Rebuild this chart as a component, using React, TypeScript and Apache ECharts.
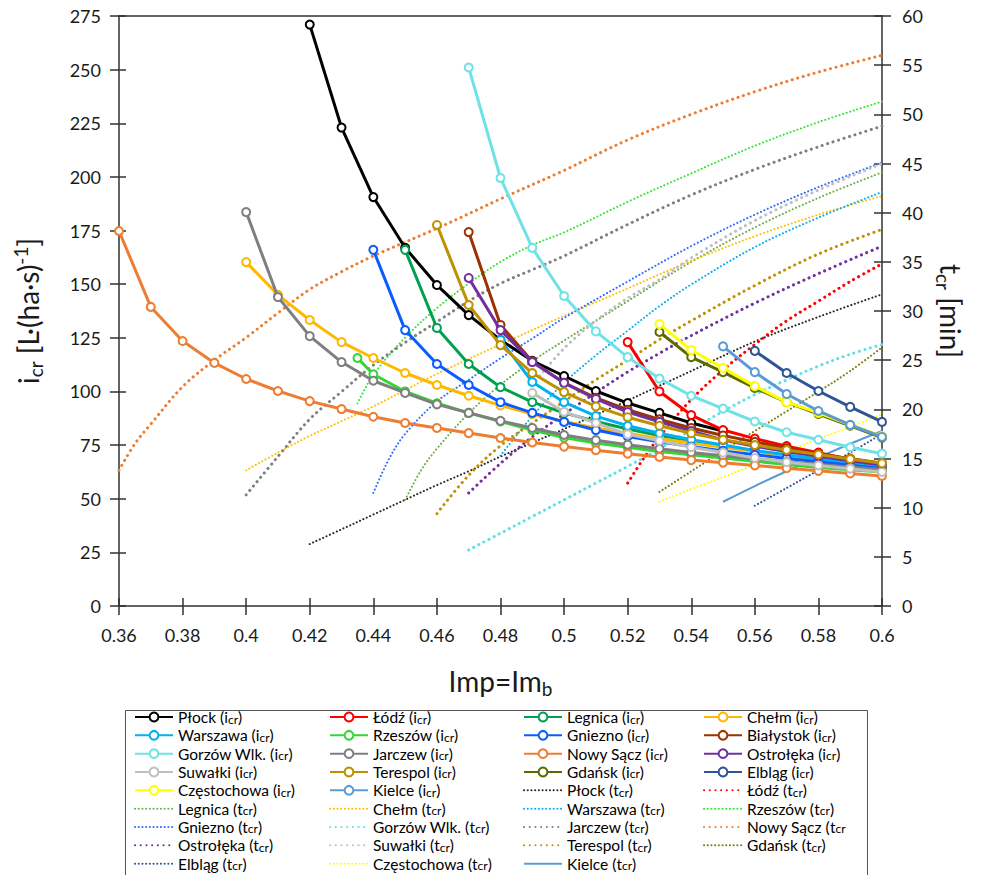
import React, { useEffect, useRef } from "react";
import * as echarts from "echarts";

// ---------- x values (Imp = Im_b) ----------
const IMP = [0.36, 0.37, 0.38, 0.39, 0.4, 0.41, 0.42, 0.43, 0.44, 0.45, 0.46, 0.47, 0.48, 0.49, 0.5, 0.51, 0.52, 0.53, 0.54, 0.55, 0.56, 0.57, 0.58, 0.59, 0.6];

// ---------- i_cr series (start x, values per 0.01 step) ----------
const plockIcrStart = 0.42;
const plockIcr = [271, 223, 190.6, 167, 149.6, 135.6, 124, 114.3, 107.2, 100.2, 94.6, 90, 85.3, 81.6];
const lodzIcrStart = 0.52;
const lodzIcr = [123, 100, 89, 82, 78, 74.5, 71.5, 68.3, 65.5];
const legnicaIcrStart = 0.45;
const legnicaIcr = [166, 129.6, 112.8, 102, 95, 90, 86, 82.5, 79.5, 77, 74.5, 72.3, 70.2, 68.2, 66, 64];
const chelmIcrStart = 0.4;
const chelmIcr = [160.3, 145, 133.3, 123, 115.6, 108.6, 103, 98, 93.5, 89.5, 86, 83, 80.5, 78, 76, 74, 72, 70.2, 68.5, 67, 65.5];
const warszawaIcrStart = 0.48;
const warszawaIcr = [124, 104.4, 95, 88.5, 84, 80.5, 77.5, 75, 72.5, 70.5, 68.5, 66.5, 64.5];
const rzeszowIcrX = [0.435, 0.44, 0.45, 0.46, 0.47, 0.48, 0.49, 0.5, 0.51, 0.52, 0.53, 0.54, 0.55, 0.56, 0.57, 0.58, 0.59, 0.6];
const rzeszowIcr = [115.6, 108, 100, 94.5, 90, 86, 82, 78.5, 76, 74, 72, 70.5, 69, 67.5, 66, 64.5, 63.5, 62.5];
const jarczewIcrStart = 0.4;
const jarczewIcr = [183.6, 144, 125.8, 113.7, 105, 99.3, 94, 90, 86.3, 83, 79.7, 77.3, 75.2, 73.3, 71.6, 70, 68.6, 67.2, 66, 64.8, 63.6];
const gnieznoIcrStart = 0.44;
const gnieznoIcr = [166, 128.6, 112.8, 103, 95, 90, 85.8, 82, 79, 76.5, 74.3, 72.3, 70.5, 68.8, 67.2, 65.6, 64];
const bialystokIcrStart = 0.47;
const bialystokIcr = [174.3, 131, 114, 104, 97, 91.5, 87, 83, 79.5, 76.5, 73.5, 71, 68.7, 66.5];
const gorzowIcrStart = 0.47;
const gorzowIcr = [251, 199.5, 166.9, 144.5, 128, 116, 106, 98, 92, 86, 81, 77.5, 74, 71];
const nowySaczIcrStart = 0.36;
const nowySaczIcr = [174.8, 139.4, 123.5, 113.3, 105.8, 100.2, 95.5, 91.8, 88.2, 85.3, 83, 80.6, 78.3, 76.2, 74.3, 72.6, 71, 69.5, 68, 66.8, 65.5, 64.2, 63, 61.8, 60.6];
const ostrolekaIcrStart = 0.47;
const ostrolekaIcr = [152.9, 128.6, 113.7, 104, 96.5, 90.4, 85.8, 81.6, 77.4, 74.5, 72, 69.8, 67.7, 65.7];
const suwalkiIcrStart = 0.49;
const suwalkiIcr = [99.3, 90.5, 85.3, 80, 77, 74, 71.5, 69, 67, 65.5, 64, 62.5];
const terespolIcrStart = 0.46;
const terespolIcr = [177.6, 140.3, 121.6, 108.6, 99.7, 93, 88, 84, 80.5, 77.5, 75, 72.7, 70.6, 68.5, 66.5];
const gdanskIcrStart = 0.53;
const gdanskIcr = [127.7, 116, 109, 101.6, 95, 89.5, 84, 78.5];
const elblagIcrStart = 0.56;
const elblagIcr = [118.9, 108.6, 100.2, 92.8, 85.8];
const czestochowaIcrStart = 0.53;
const czestochowaIcr = [131.4, 119.3, 111, 102.5, 95, 90, 84.4, 79.2];
const kielceIcrStart = 0.55;
const kielceIcr = [121, 109, 98.8, 90.9, 84.4, 78.8];

// ---------- t_cr series (x, value) ----------
const plockTcrX = [0.42, 0.43, 0.44, 0.45, 0.46, 0.47, 0.48, 0.49, 0.5, 0.52, 0.54, 0.56, 0.58, 0.6];
const plockTcr = [6.3, 7.8, 9.3, 10.8, 12.3, 13.7, 15.2, 16.6, 18, 20.9, 23.9, 26.9, 29.4, 31.7];
const lodzTcrX = [0.52, 0.525, 0.53, 0.54, 0.55, 0.56, 0.57, 0.58, 0.59, 0.6];
const lodzTcr = [12.5, 15, 17.2, 21, 24, 26.6, 29, 31, 33, 34.8];
const legnicaTcrX = [0.45, 0.455, 0.46, 0.47, 0.48, 0.49, 0.5, 0.51, 0.52, 0.54, 0.56, 0.58, 0.6];
const legnicaTcr = [10.8, 13.8, 16, 19.6, 22.5, 24.9, 27, 29, 31, 35, 38.5, 41.5, 44.1];
const chelmTcrX = [0.4, 0.41, 0.42, 0.43, 0.44, 0.46, 0.48, 0.5, 0.52, 0.54, 0.56, 0.58, 0.6];
const chelmTcr = [13.8, 15.6, 17.3, 18.8, 20.3, 23.6, 26.6, 29.5, 32.3, 35.1, 37.6, 39.8, 41.7];
const warszawaTcrX = [0.48, 0.49, 0.5, 0.51, 0.52, 0.53, 0.54, 0.56, 0.58, 0.6];
const warszawaTcr = [15.3, 19.3, 22.7, 25.5, 28, 30.5, 32.7, 36.5, 39.5, 42.1];
const rzeszowTcrX = [0.435, 0.44, 0.45, 0.46, 0.47, 0.48, 0.49, 0.5, 0.52, 0.54, 0.56, 0.58, 0.6];
const rzeszowTcr = [20.6, 23.5, 27.3, 30.3, 32.8, 35, 36.7, 38, 41.1, 44, 46.8, 49.2, 51.3];
const gnieznoTcrX = [0.44, 0.445, 0.45, 0.46, 0.47, 0.48, 0.49, 0.5, 0.52, 0.54, 0.56, 0.58, 0.6];
const gnieznoTcr = [11.5, 15, 17.5, 20.8, 23, 25.2, 27.2, 29.3, 33, 36.6, 39.8, 42.6, 45.1];
const gorzowTcrX = [0.47, 0.48, 0.49, 0.5, 0.51, 0.52, 0.53, 0.54, 0.55, 0.56, 0.57, 0.58, 0.59, 0.6];
const gorzowTcr = [5.7, 7.4, 9.1, 10.8, 12.5, 14.2, 16, 17.9, 19.8, 21.5, 23, 24.4, 25.6, 26.6];
const jarczewTcrX = [0.4, 0.41, 0.42, 0.43, 0.44, 0.45, 0.46, 0.47, 0.48, 0.49, 0.5, 0.52, 0.54, 0.56, 0.58, 0.6];
const jarczewTcr = [11.3, 15.2, 19, 21.8, 24.5, 26.8, 28.9, 31, 32.8, 34.2, 35.6, 38.8, 41.8, 44.4, 46.7, 48.8];
const nowySaczTcrX = [0.36, 0.365, 0.37, 0.38, 0.39, 0.4, 0.41, 0.42, 0.43, 0.44, 0.46, 0.48, 0.5, 0.52, 0.54, 0.56, 0.58, 0.6];
const nowySaczTcr = [13.8, 16.5, 18.5, 22.3, 25, 27.3, 29.8, 32.2, 34, 35.6, 38.4, 41.4, 44.3, 47.4, 50, 52.3, 54.3, 56];
const ostrolekaTcrX = [0.47, 0.48, 0.49, 0.5, 0.51, 0.52, 0.53, 0.54, 0.56, 0.58, 0.6];
const ostrolekaTcr = [11.5, 14.5, 17.2, 19.5, 21.7, 23.8, 25.7, 27.5, 30.8, 33.8, 36.6];
const suwalkiTcrX = [0.49, 0.5, 0.51, 0.52, 0.53, 0.54, 0.56, 0.58, 0.6];
const suwalkiTcr = [22.5, 26.2, 29, 31.3, 33.2, 35.4, 39.2, 42.3, 45];
const terespolTcrX = [0.46, 0.47, 0.48, 0.49, 0.5, 0.51, 0.52, 0.53, 0.54, 0.56, 0.58, 0.6];
const terespolTcr = [9.4, 13.3, 16.3, 18.6, 20.8, 23, 25, 27.1, 29, 32.6, 35.8, 38.3];
const gdanskTcrX = [0.53, 0.54, 0.55, 0.56, 0.57, 0.58, 0.59, 0.6];
const gdanskTcr = [11.6, 13.7, 15.8, 17.8, 19.8, 21.8, 23.9, 26.3];
const elblagTcrX = [0.56, 0.57, 0.58, 0.59, 0.6];
const elblagTcr = [10.2, 12, 13.8, 15.6, 17.5];
const czestochowaTcrX = [0.53, 0.54, 0.55, 0.56, 0.57, 0.58, 0.59, 0.6];
const czestochowaTcr = [10.6, 11.9, 13.1, 14.4, 15.7, 17, 18.2, 19.5];
const kielceTcrX = [0.55, 0.56, 0.57, 0.58, 0.59, 0.6];
const kielceTcr = [10.6, 12.2, 13.7, 15.1, 16.5, 17.8];

// ---------- axis ticks ----------
const X_MIN = 0.36, X_MAX = 0.6, X_STEP = 0.02;
const Y_MIN = 0, Y_MAX = 275, Y_STEP = 25;
const T_MIN = 0, T_MAX = 60, T_STEP = 5;

const FONT = "Lato, 'Open Sans', sans-serif";

function fromStart(start: number, vals: number[]) {
  const i0 = Math.round((start - IMP[0]) / 0.01);
  return vals.map((v, i) => [IMP[i0 + i], v]);
}
function pairs(xs: number[], ys: number[]) {
  return xs.map((x, i) => [x, ys[i]]);
}

type IDef = { name: string; color: string; data: number[][] };
const icrSeries: IDef[] = [
  { name: "Płock (icr)", color: "#000000", data: fromStart(plockIcrStart, plockIcr) },
  { name: "Łódź (icr)", color: "#FF0000", data: fromStart(lodzIcrStart, lodzIcr) },
  { name: "Legnica (icr)", color: "#00A050", data: fromStart(legnicaIcrStart, legnicaIcr) },
  { name: "Chełm (icr)", color: "#FFB800", data: fromStart(chelmIcrStart, chelmIcr) },
  { name: "Warszawa (icr)", color: "#00B0F0", data: fromStart(warszawaIcrStart, warszawaIcr) },
  { name: "Rzeszów (icr)", color: "#33D633", data: pairs(rzeszowIcrX, rzeszowIcr) },
  { name: "Gniezno (icr)", color: "#0A5CFF", data: fromStart(gnieznoIcrStart, gnieznoIcr) },
  { name: "Białystok (icr)", color: "#993300", data: fromStart(bialystokIcrStart, bialystokIcr) },
  { name: "Gorzów Wlk. (icr)", color: "#6EE2E6", data: fromStart(gorzowIcrStart, gorzowIcr) },
  { name: "Jarczew (icr)", color: "#7F7F7F", data: fromStart(jarczewIcrStart, jarczewIcr) },
  { name: "Nowy Sącz (icr)", color: "#ED7D31", data: fromStart(nowySaczIcrStart, nowySaczIcr) },
  { name: "Ostrołęka (icr)", color: "#7030A0", data: fromStart(ostrolekaIcrStart, ostrolekaIcr) },
  { name: "Suwałki (icr)", color: "#BFBFBF", data: fromStart(suwalkiIcrStart, suwalkiIcr) },
  { name: "Terespol (icr)", color: "#BF9000", data: fromStart(terespolIcrStart, terespolIcr) },
  { name: "Gdańsk (icr)", color: "#5C6B00", data: fromStart(gdanskIcrStart, gdanskIcr) },
  { name: "Elbląg (icr)", color: "#2F5597", data: fromStart(elblagIcrStart, elblagIcr) },
  { name: "Częstochowa (icr)", color: "#FFFF00", data: fromStart(czestochowaIcrStart, czestochowaIcr) },
  { name: "Kielce (icr)", color: "#5B9BD5", data: fromStart(kielceIcrStart, kielceIcr) },
];

type TDef = { name: string; color: string; data: number[][]; big?: boolean; solid?: boolean };
const tcrSeries: TDef[] = [
  { name: "Płock (tcr)", color: "#262626", data: pairs(plockTcrX, plockTcr) },
  { name: "Łódź (tcr)", color: "#FF0000", data: pairs(lodzTcrX, lodzTcr), big: true },
  { name: "Legnica (tcr)", color: "#70AD47", data: pairs(legnicaTcrX, legnicaTcr) },
  { name: "Chełm (tcr)", color: "#FFC000", data: pairs(chelmTcrX, chelmTcr) },
  { name: "Warszawa (tcr)", color: "#00B0F0", data: pairs(warszawaTcrX, warszawaTcr) },
  { name: "Rzeszów (tcr)", color: "#33E633", data: pairs(rzeszowTcrX, rzeszowTcr) },
  { name: "Gniezno (tcr)", color: "#2E6BFF", data: pairs(gnieznoTcrX, gnieznoTcr) },
  { name: "Gorzów Wlk. (tcr)", color: "#5EE0E6", data: pairs(gorzowTcrX, gorzowTcr), big: true },
  { name: "Jarczew (tcr)", color: "#7F7F7F", data: pairs(jarczewTcrX, jarczewTcr), big: true },
  { name: "Nowy Sącz (tcr", color: "#ED7D31", data: pairs(nowySaczTcrX, nowySaczTcr), big: true },
  { name: "Ostrołęka (tcr)", color: "#7030A0", data: pairs(ostrolekaTcrX, ostrolekaTcr), big: true },
  { name: "Suwałki (tcr)", color: "#BFBFBF", data: pairs(suwalkiTcrX, suwalkiTcr), big: true },
  { name: "Terespol (tcr)", color: "#BF9000", data: pairs(terespolTcrX, terespolTcr), big: true },
  { name: "Gdańsk (tcr)", color: "#7F7F00", data: pairs(gdanskTcrX, gdanskTcr) },
  { name: "Elbląg (tcr)", color: "#2F5597", data: pairs(elblagTcrX, elblagTcr) },
  { name: "Częstochowa (tcr)", color: "#FFFF00", data: pairs(czestochowaTcrX, czestochowaTcr) },
  { name: "Kielce (tcr)", color: "#5B9BD5", data: pairs(kielceTcrX, kielceTcr), solid: true },
];

const legendCols = [
  ["Płock (icr)", "Warszawa (icr)", "Gorzów Wlk. (icr)", "Suwałki (icr)", "Częstochowa (icr)", "Legnica (tcr)", "Gniezno (tcr)", "Ostrołęka (tcr)", "Elbląg (tcr)"],
  ["Łódź (icr)", "Rzeszów (icr)", "Jarczew (icr)", "Terespol (icr)", "Kielce (icr)", "Chełm (tcr)", "Gorzów Wlk. (tcr)", "Suwałki (tcr)", "Częstochowa (tcr)"],
  ["Legnica (icr)", "Gniezno (icr)", "Nowy Sącz (icr)", "Gdańsk (icr)", "Płock (tcr)", "Warszawa (tcr)", "Jarczew (tcr)", "Terespol (tcr)", "Kielce (tcr)"],
  ["Chełm (icr)", "Białystok (icr)", "Ostrołęka (icr)", "Elbląg (icr)", "Łódź (tcr)", "Rzeszów (tcr)", "Nowy Sącz (tcr", "Gdańsk (tcr)"],
];
const legendLeft = [134, 329, 523, 703];

const axisColor = "#303030";
const textColor = "#1a1a1a";

function buildOption() {
  const series: any[] = [];
  icrSeries.forEach((s, i) => {
    series.push({
      type: "line",
      name: s.name,
      xAxisIndex: 0,
      yAxisIndex: 0,
      data: s.data,
      symbol: "emptyCircle",
      symbolSize: 8,
      showSymbol: true,
      lineStyle: { color: s.color, width: 3 },
      itemStyle: { color: s.color, borderColor: s.color, borderWidth: 1.6 },
      z: 3 + i * 0.01,
    });
  });
  tcrSeries.forEach((s) => {
    series.push({
      type: "line",
      name: s.name,
      xAxisIndex: 0,
      yAxisIndex: 1,
      data: s.data,
      symbol: "none",
      showSymbol: false,
      smooth: 0.35,
      lineStyle: s.solid
        ? { color: s.color, width: 2, type: "solid" }
        : { color: s.color, width: s.big ? 3 : 2, type: s.big ? [0.1, 5.6] : [0.1, 3.6], cap: "round" },
      itemStyle: { color: s.color },
      z: 2,
    });
  });

  const legendFormatter = (name: string) =>
    name.replace(/\((i|t)cr(\)?)/, (_m: string, a: string, b: string) => `({n|${a}}{s|cr}${b ? "{n|)}" : ""}`);

  const tcrNames = new Set(tcrSeries.map((s) => s.name));

  const legends = legendCols.map((col, ci) => ({
    orient: "vertical",
    left: legendLeft[ci],
    top: 709,
    padding: 0,
    itemGap: 2.33,
    itemWidth: 38,
    itemHeight: 11,
    selectedMode: false,
    data: col.map((n) => (tcrNames.has(n) ? { name: n, itemStyle: { opacity: 0 } } : { name: n })),
    formatter: legendFormatter,
    textStyle: {
      fontFamily: FONT,
      fontSize: 15.5,
      color: "#000",
      lineHeight: 16,
      rich: {
        n: { fontFamily: FONT, fontSize: 15.5, color: "#000", lineHeight: 16 },
        s: { fontFamily: FONT, fontSize: 12, color: "#000", verticalAlign: "bottom", padding: [4, 0, 0, 0] },
      },
    },
  }));

  const labelStyle = { fontFamily: FONT, fontSize: 18, color: textColor };
  const lineStyle = { color: axisColor, width: 1.5 };
  const nameRich = {
    n: { fontFamily: FONT, fontSize: 28, color: textColor, lineHeight: 34 },
    s: { fontFamily: FONT, fontSize: 19, color: textColor, verticalAlign: "bottom", padding: [8, 0, 0, 0] },
    p: { fontFamily: FONT, fontSize: 19, color: textColor, verticalAlign: "top" },
  };

  return {
    animation: false,
    backgroundColor: "#ffffff",
    grid: { left: 119, right: 104, top: 16, bottom: 269, containLabel: false },
    legend: legends,
    graphic: [
      {
        type: "rect",
        left: 123,
        top: 708,
        shape: { width: 742, height: 166 },
        style: { fill: "none", stroke: "#555", lineWidth: 1 },
        silent: true,
      },
    ],
    xAxis: [
      {
        type: "value",
        position: "bottom",
        min: X_MIN,
        max: X_MAX,
        interval: X_STEP,
        axisLine: { show: true, onZero: false, lineStyle },
        axisTick: { show: true, length: 9, lineStyle },
        axisLabel: { ...labelStyle, margin: 20, formatter: (v: number) => String(+v.toFixed(2)) },
        splitLine: { show: false },
        name: "{n|Imp=Im}{s|b}",
        nameLocation: "middle",
        nameGap: 58,
        nameTextStyle: { rich: nameRich },
      },
      {
        type: "value",
        position: "bottom",
        min: X_MIN,
        max: X_MAX,
        interval: X_STEP,
        axisLine: { show: false },
        axisTick: { show: true, inside: true, length: 8, lineStyle },
        axisLabel: { show: false },
        splitLine: { show: false },
      },
      {
        type: "value",
        position: "top",
        min: X_MIN,
        max: X_MAX,
        interval: X_STEP,
        axisLine: { show: true, onZero: false, lineStyle },
        axisTick: { show: false },
        axisLabel: { show: false },
        splitLine: { show: false },
      },
    ],
    yAxis: [
      {
        type: "value",
        position: "left",
        min: Y_MIN,
        max: Y_MAX,
        interval: Y_STEP,
        axisLine: { show: true, onZero: false, lineStyle },
        axisTick: { show: true, length: 9, lineStyle },
        axisLabel: { ...labelStyle, margin: 18 },
        splitLine: { show: false },
        name: "{n|i}{s|cr}{n| [L·(ha·s)}{p|-1}{n|]}",
        nameLocation: "middle",
        nameRotate: 90,
        nameGap: 74,
        nameTextStyle: { rich: nameRich },
      },
      {
        type: "value",
        position: "right",
        min: T_MIN,
        max: T_MAX,
        interval: T_STEP,
        axisLine: { show: true, onZero: false, lineStyle },
        axisTick: { show: true, length: 9, lineStyle },
        axisLabel: { ...labelStyle, margin: 20 },
        splitLine: { show: false },
        name: "{n|t}{s|cr}{n| [min]}",
        nameLocation: "middle",
        nameRotate: -90,
        nameGap: 50,
        nameTextStyle: { rich: nameRich },
      },
      {
        type: "value",
        position: "left",
        min: Y_MIN,
        max: Y_MAX,
        interval: Y_STEP,
        axisLine: { show: false },
        axisTick: { show: true, inside: true, length: 7, lineStyle },
        axisLabel: { show: false },
        splitLine: { show: false },
      },
      {
        type: "value",
        position: "right",
        min: T_MIN,
        max: T_MAX,
        interval: T_STEP,
        axisLine: { show: false },
        axisTick: { show: true, inside: true, length: 8, lineStyle },
        axisLabel: { show: false },
        splitLine: { show: false },
      },
    ],
    series,
  };
}

export default function App() {
  const ref = useRef<HTMLDivElement>(null);
  useEffect(() => {
    if (!ref.current) return;
    const chart = echarts.init(ref.current, null, { renderer: "svg" });
    chart.setOption(buildOption() as any);
    return () => chart.dispose();
  }, []);
  return (
    <div
      ref={ref}
      style={{ position: "absolute", left: 0, top: 0, width: 986, height: 875, background: "#fff" }}
    />
  );
}
